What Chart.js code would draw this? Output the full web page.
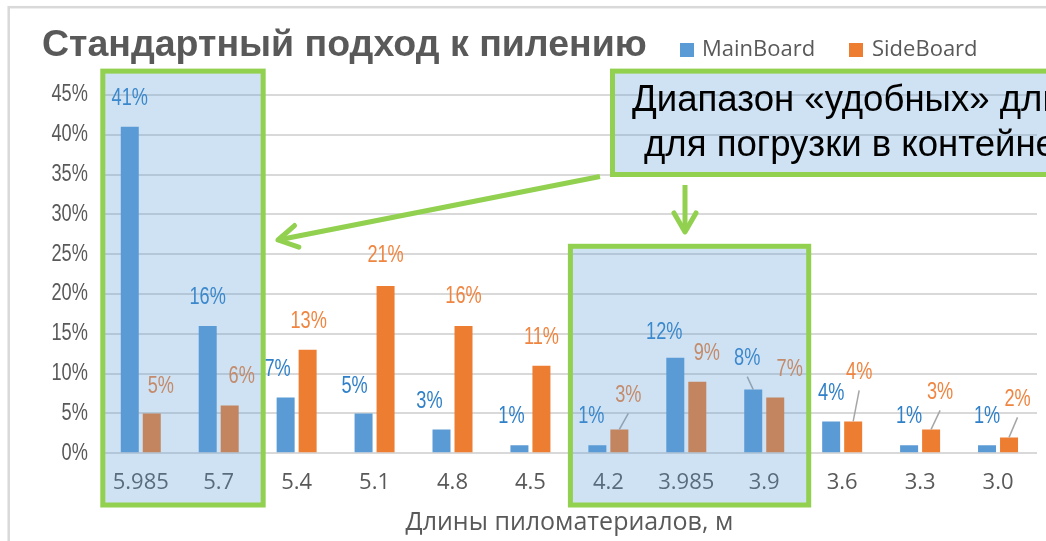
<!DOCTYPE html>
<html><head><meta charset="utf-8">
<script src="https://cdn.jsdelivr.net/npm/chart.js@4/dist/chart.umd.min.js"></script>
<style>html,body{margin:0;padding:0;background:#fff;overflow:hidden}canvas{display:block}</style>
</head><body>
<canvas id="c" width="1046" height="541"></canvas>
<script>
// ---- data ----
const categories = ['5.985','5.7','5.4','5.1','4.8','4.5','4.2','3.985','3.9','3.6','3.3','3.0'];
const mainBoard  = [41,16,7,5,3,1,1,12,8,4,1,1];
const sideBoard  = [5,6,13,21,16,11,3,9,7,4,3,2];
const yTickValues = [0,5,10,15,20,25,30,35,40,45];
const seriesNames = ['MainBoard','SideBoard'];
const titleText = 'Стандартный подход к пилению';
const xTitleText = 'Длины пиломатериалов, м';
const calloutLines = ['Диапазон «удобных» длин', 'для погрузки в контейнер'];
// highlighted category ranges [first, last] and top value of each highlight
const highlightRanges = [[0,1],[6,8]];
const highlightTops = [48,26];

// ---- styling (label nudges relative to bar top, in px) ----
const style = {
  blue:'#5B9BD5', orange:'#ED7D31', green:'#92D050', grid:'#D9D9D9', text:'#595959',
  blueLabel:'#2F80C8', orangeLabel:'#EF8540',
  overlay:'rgba(91,155,213,0.29)'
};
const nudge = {
  mainDx:[0,0,-8,-9,-12,-8,-6,-11,-6,0,0,0],
  mainDy:[-28,-28,-28,-27,-28,-29,-29,-25,-31,-28,-29,-29],
  sideDx:[9,12,1,0,0,0,9,9.5,14.5,6,9,8.5],
  sideDy:[-27,-29,-28,-30,-29,-28,-34,-28,-28,-49,-37,-38],
  mainLeader:[8], sideLeader:[6,9,10,11]
};
const NARROW_FONT = '23px "Liberation Sans", Arial, sans-serif';
const NARROW_SCALE = 0.79;

function narrowText(ctx, txt, x, y, align){
  ctx.save();
  ctx.translate(x, y);
  ctx.scale(NARROW_SCALE, 1);
  ctx.textAlign = align; ctx.textBaseline = 'middle';
  ctx.fillText(txt, 0, 0);
  ctx.restore();
}

function arrow(ctx, x1, y1, x2, y2){
  ctx.save();
  ctx.strokeStyle = style.green; ctx.lineWidth = 5; ctx.lineCap='butt'; ctx.lineJoin='round';
  ctx.beginPath(); ctx.moveTo(x1,y1); ctx.lineTo(x2,y2); ctx.stroke();
  const a = Math.atan2(y1-y2, x1-x2), L = 22, s = Math.PI/6;
  ctx.lineCap='round';
  ctx.beginPath();
  ctx.moveTo(x2+L*Math.cos(a+s), y2+L*Math.sin(a+s));
  ctx.lineTo(x2,y2);
  ctx.lineTo(x2+L*Math.cos(a-s), y2+L*Math.sin(a-s));
  ctx.stroke();
  ctx.restore();
}

const deco = {
  id:'deco',
  beforeDraw(chart){
    const ctx = chart.ctx;
    ctx.save();
    ctx.fillStyle='#fff'; ctx.fillRect(0,0,chart.width,chart.height);
    ctx.strokeStyle = style.grid; ctx.lineWidth = 2.5;
    ctx.strokeRect(8.7, 7.2, 1200, 800);
    ctx.restore();
  },
  afterDatasetsDraw(chart){
    const ctx = chart.ctx, ys = chart.scales.y;
    ctx.save();
    ctx.font = NARROW_FONT;
    // y tick labels from the library's y scale
    ctx.fillStyle = style.text;
    ys.ticks.forEach(t=>{
      narrowText(ctx, t.value+'%', ys.right - 14, ys.getPixelForValue(t.value), 'right');
    });
    const sets = [
      {meta:chart.getDatasetMeta(0), data:mainBoard, dx:nudge.mainDx, dy:nudge.mainDy, col:style.blueLabel, lead:nudge.mainLeader},
      {meta:chart.getDatasetMeta(1), data:sideBoard, dx:nudge.sideDx, dy:nudge.sideDy, col:style.orangeLabel, lead:nudge.sideLeader}
    ];
    sets.forEach(s=>{
      s.meta.data.forEach((bar,i)=>{
        const lx = bar.x + s.dx[i], ly = bar.y + s.dy[i];
        if (s.lead.includes(i)){
          ctx.strokeStyle='#A6A6A6'; ctx.lineWidth=1.5;
          ctx.beginPath(); ctx.moveTo(lx, ly+18); ctx.lineTo(bar.x, bar.y); ctx.stroke();
        }
        ctx.fillStyle = s.col;
        narrowText(ctx, s.data[i]+'%', lx, ly, 'center');
      });
    });
    ctx.restore();
  },
  afterDraw(chart){
    const ctx = chart.ctx, xs = chart.scales.x, ys = chart.scales.y;
    const cw = xs.getPixelForValue(1) - xs.getPixelForValue(0);
    ctx.save();
    // title
    ctx.fillStyle = style.text; ctx.font='bold 37.5px "Liberation Sans", Arial, sans-serif';
    ctx.textAlign='left'; ctx.textBaseline='alphabetic';
    ctx.fillText(titleText, 42, 56);
    // legend
    ctx.font='22px "Open Sans", sans-serif'; ctx.textBaseline='middle';
    ctx.fillStyle=style.blue; ctx.fillRect(680,43,14,14);
    ctx.fillStyle=style.orange; ctx.fillRect(849,43,14,14);
    ctx.fillStyle=style.text;
    ctx.fillText(seriesNames[0], 702, 50);
    ctx.fillText(seriesNames[1], 872, 50);
    // highlight boxes
    const bottomY = 505;
    highlightRanges.forEach((r,k)=>{
      const x0 = xs.getPixelForValue(r[0]) - cw/2 + 1;
      const x1 = xs.getPixelForValue(r[1]) + cw/2 + 5.5;
      const y0 = ys.getPixelForValue(highlightTops[k]);
      ctx.fillStyle = style.overlay; ctx.fillRect(x0,y0,x1-x0,bottomY-y0);
      ctx.strokeStyle = style.green; ctx.lineWidth=5; ctx.strokeRect(x0,y0,x1-x0,bottomY-y0);
    });
    // callout (runs past the right edge of the picture)
    const cy0 = ys.getPixelForValue(highlightTops[0]), cy1 = 174.5;
    ctx.fillStyle = style.overlay; ctx.fillRect(612.5, cy0, 1500, cy1-cy0);
    ctx.strokeStyle = style.green; ctx.lineWidth=5; ctx.strokeRect(612.5, cy0, 1500, cy1-cy0);
    ctx.fillStyle='#000'; ctx.font='36.6px "Liberation Sans", Arial, sans-serif';
    ctx.textAlign='left'; ctx.textBaseline='alphabetic';
    ctx.fillText(calloutLines[0], 632, 111);
    ctx.fillText(calloutLines[1], 644, 156);
    // arrows
    arrow(ctx, 600, 176.5, 278, 240);
    arrow(ctx, 685, 185, 685, 232);
    ctx.restore();
  }
};

new Chart(document.getElementById('c'), {
  type:'bar',
  data:{
    labels: categories,
    datasets:[
      {label:seriesNames[0], data:mainBoard, backgroundColor:style.blue, categoryPercentage:0.5646, barPercentage:0.818},
      {label:seriesNames[1], data:sideBoard, backgroundColor:style.orange, categoryPercentage:0.5646, barPercentage:0.818}
    ]
  },
  options:{
    responsive:false, animation:false, devicePixelRatio:1,
    layout:{padding:{top:95, left:0, right:9, bottom:0}},
    plugins:{legend:{display:false}, title:{display:false}, tooltip:{enabled:false}},
    scales:{
      x:{
        grid:{display:false, drawTicks:false}, border:{display:false},
        ticks:{color:style.text, font:{family:'"Open Sans", sans-serif', size:22}, padding:16, maxRotation:0, autoSkip:false},
        title:{display:true, text:xTitleText, color:style.text, font:{family:'"Open Sans", sans-serif', size:25}, padding:{top:0,bottom:3}},
        afterFit(s){ s.height = 87.7; }
      },
      y:{
        min:0, max:45,
        afterBuildTicks(s){ s.ticks = yTickValues.map(v=>({value:v})); },
        grid:{color:style.grid, lineWidth:2, drawTicks:false}, border:{display:false},
        ticks:{display:false},
        afterFit(s){ s.width = 101.8; }
      }
    }
  },
  plugins:[deco]
});
</script>
</body></html>
